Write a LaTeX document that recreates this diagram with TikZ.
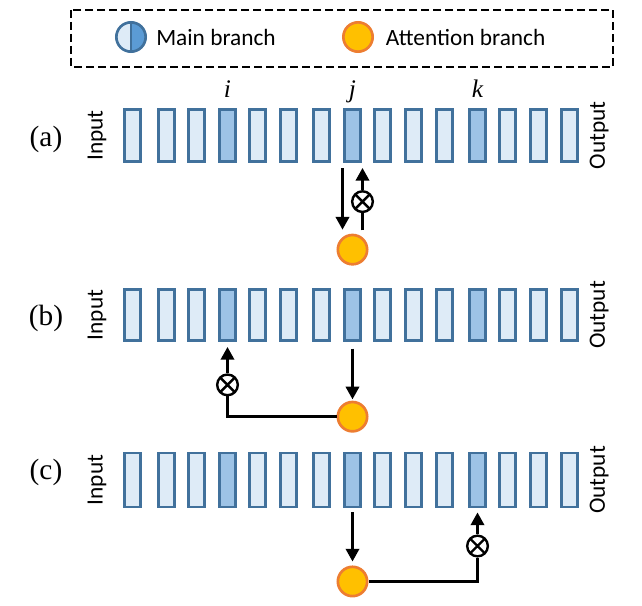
\documentclass[tikz,border=0pt]{standalone}
\usepackage{fontspec}
\setmainfont{Liberation Serif}
\setsansfont{Carlito}
\usetikzlibrary{arrows.meta,positioning}

\definecolor{barfill}{HTML}{DEEBF7}
\definecolor{hotfill}{HTML}{9DC3E6}
\definecolor{barline}{HTML}{41719C}
\definecolor{keyfill}{HTML}{5B9BD5}
\definecolor{attfill}{HTML}{FFC000}
\definecolor{attline}{HTML}{ED7D31}

\begin{document}
\begin{tikzpicture}[x=0.75pt,y=-0.75pt,>={Triangle[length=9.5pt,width=10pt]},line width=1.9pt,
                    bar node/.style={rectangle,draw=barline,fill=barfill,line width=2.1pt,
                                     minimum width=12.2pt,inner sep=0pt},
                    hot node/.style={bar node,fill=hotfill},
                    bar 0/.style={hot node},bar 1/.style={bar node},
                    bar 2/.style={bar node},bar 3/.style={bar node},
                    att node/.style={circle,draw=attline,fill=attfill,line width=2pt,minimum size=22pt,inner sep=0pt},
                    key node/.style={circle,draw=barline,fill=barfill,line width=2pt,minimum size=22pt,inner sep=0pt,
                                     path picture={
                                       \fill[keyfill] (path picture bounding box.north) rectangle (path picture bounding box.south east);
                                       \draw[barline] (path picture bounding box.north) -- (path picture bounding box.south);}},
                    mul node/.style={circle,draw,line width=1.8pt,minimum size=15.5pt,inner sep=0pt,
                                     path picture={
                                       \draw (path picture bounding box.north west) -- (path picture bounding box.south east)
                                             (path picture bounding box.north east) -- (path picture bounding box.south west);}},
                    sans/.style={font=\sffamily\fontsize{17.5}{21}\selectfont,inner sep=0pt},
                    io/.style={sans,rotate=90},
                    idx/.style={font=\fontsize{19}{22}\selectfont\itshape,inner sep=0pt,anchor=base},
                    row/.style={font=\fontsize{22}{26}\selectfont,inner sep=0pt}]
  \useasboundingbox (0,0) rectangle (642,606);

  % legend
  \draw[dash pattern=on 6pt off 3pt] (71,10) rectangle (613,67);
  \node[key node] (keymain) at (131,37) {};
  \node[sans,right=6pt of keymain] (keymaintext) {Main branch};
  \node[att node] (keyatt) at (358,37) {};
  \node[sans,right=8pt of keyatt] (keyatttext) {Attention branch};

  % three rows of blocks
  \foreach \r/\y/\h in {a/135.5/39.1pt, b/315/38.4pt, c/480/40.6pt} {
    \foreach \x [count=\n, evaluate=\n as \m using {int(mod(\n,4))}] in
        {132.5,166.5,196.5,227.5,257.5,288.5,321.5,352.5,382.5,413.5,444.5,477.5,507.5,538.5,569.5}
      \node[bar \m,minimum height=\h] (\r\n) at (\x,\y) {};
    \node[io,anchor=south] (in\r) at ([xshift=-11.5pt]\r1.west) {Input};
    \node[io,anchor=north] (out\r) at ([xshift=7pt]\r15.east) {Output};
  }
  \node[row] (rowa) at (46,139) {(a)};
  \node[row] (rowb) at (46,318) {(b)};
  \node[row] (rowc) at (46,472) {(c)};

  \node[idx] (ii) at ([yshift=8pt]a4.north) {i};
  \node[idx] (jj) at ([yshift=8pt]a8.north) {j};
  \node[idx] (kk) at ([yshift=8pt]a12.north) {k};

  % attention branches
  \node[att node,below=53pt of a8] (atta) {};
  \node[att node,below=44pt of b8] (attb) {};
  \node[att node,below=42.75pt of c8] (attc) {};
  \node[mul node] (mula) at ([xshift=7.5pt,yshift=24pt]atta.north) {};
  \node[mul node,below=23.5pt of b4] (mulb) {};
  \node[mul node,below=19.5pt of c12] (mulc) {};

  \draw[->,shorten <=4pt,shorten >=3pt] ([xshift=-7.5pt]atta.north |- a8.south) -- ([xshift=-7.5pt]atta.north);
  \draw[shorten <=2.5pt] (mula |- atta.north) -- (mula);
  \draw (attb) -| (mulb);
  \draw (attc) -| (mulc);
  \path[->]
    (mula) edge[shorten >=3.75pt] (mula |- a8.south)
    (b8) edge[shorten <=5pt,shorten >=1pt] (attb)
    (mulb) edge[shorten >=3.75pt] (b4)
    (c8) edge[shorten <=3pt,shorten >=3pt] (attc)
    (mulc) edge[shorten >=3pt] (c12);
\end{tikzpicture}
\end{document}
